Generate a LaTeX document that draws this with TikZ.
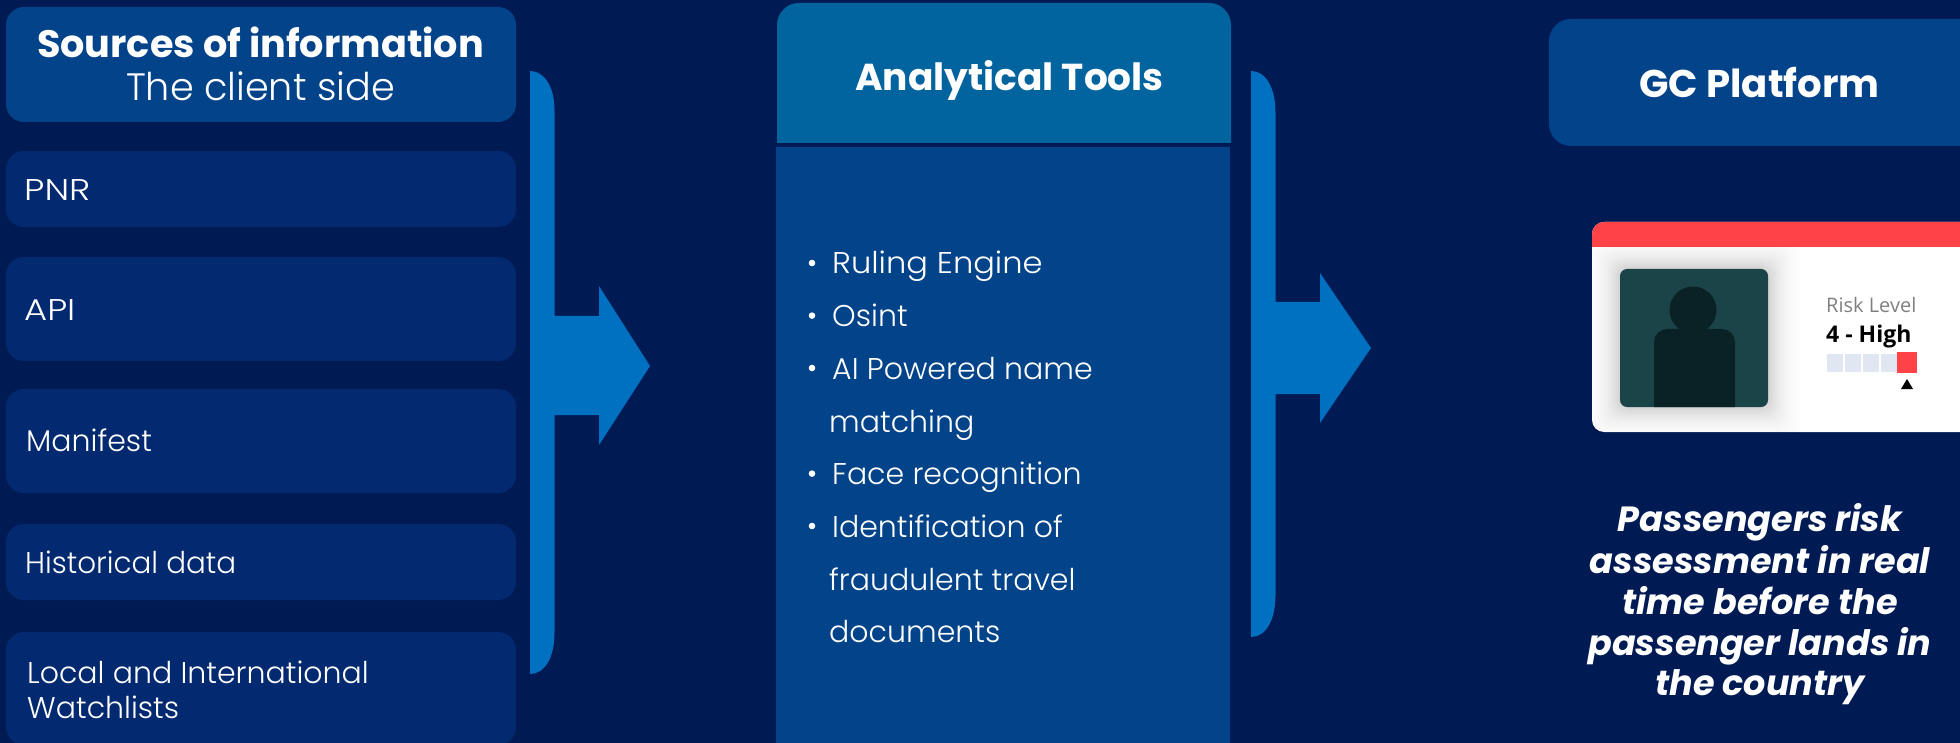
\documentclass[tikz,border=0pt]{standalone}
\usepackage{fontspec}
\setmainfont{Poppins}
\newfontfamily\lightf{Poppins Light}
\newfontfamily\cardfont{Open Sans}
\usetikzlibrary{calc}
\definecolor{bgc}{HTML}{001A54}
\definecolor{hdr}{HTML}{03438A}
\definecolor{itembox}{HTML}{032A70}
\definecolor{hdrb}{HTML}{01649F}
\definecolor{arrowc}{HTML}{0070C0}
\definecolor{redc}{HTML}{FF4347}
\definecolor{photoc}{HTML}{1B4449}
\definecolor{figc}{HTML}{0A2226}
\definecolor{cellc}{HTML}{E1E7F2}
\tikzset{
  x=1pt,y=-1pt,
  panel/.style={anchor=north west,inner sep=0pt,outer sep=0pt,rounded corners=#1},
  panel/.default=18pt,
  itemtxt/.style={anchor=base west,inner sep=0pt,text=white,font=\lightf\fontsize{30}{36}\selectfont},
  toolstxt/.style={anchor=base west,inner sep=0pt,text=white,font=\lightf\fontsize{30}{36}\selectfont},
  titletxt/.style={anchor=base,inner sep=0pt,text=white,font=\fontsize{38.2}{46}\selectfont\bfseries},
  risktxt/.style={anchor=base,inner sep=0pt,text=white,font=\fontsize{35}{42}\selectfont\bfseries\itshape},
  bigarrow/.style={fill=arrowc,draw=none},
  cell/.style={fill=cellc,draw=none},
}
\begin{document}
\begin{tikzpicture}
\useasboundingbox (0,0) rectangle (1960,743);
\fill[bgc] (0,0) rectangle (1960,743);
% left column
\node[panel,fill=hdr,minimum width=510pt,minimum height=115pt] (srcH) at (6,7) {};
\node[panel,fill=itembox,minimum width=510pt,minimum height=76pt] (pnr) at (6,151) {};
\node[panel,fill=itembox,minimum width=510pt,minimum height=104pt] (api) at (6,257) {};
\node[panel,fill=itembox,minimum width=510pt,minimum height=104pt] (man) at (6,389) {};
\node[panel,fill=itembox,minimum width=510pt,minimum height=76pt] (hist) at (6,524) {};
\node[panel,fill=itembox,minimum width=510pt,minimum height=113pt] (local) at (6,632) {};
\node[titletxt] (srcT) at (260.5,57.5) {Sources of information};
\node[titletxt,font=\lightf\fontsize{38.2}{46}\selectfont] (srcS) at (260.5,101) {The client side};
\node[itemtxt] (pnrT) at (24,201) {\scalebox{1.2}[1]{PNR}};
\node[itemtxt] (apiT) at (24,320) {\scalebox{1.18}[1]{API}};
\node[itemtxt] (manT) at (26,451) {Manifest};
\node[itemtxt] (histT) at (25,573) {\scalebox{.98}[1]{Historical data}};
\node[itemtxt] (localT) at (27,683) {Local and International};
\node[itemtxt] (localU) at (27,718) {Watchlists};
% arrow 1
\fill[bigarrow] (530,71) .. controls (545,71) and (554.5,88) .. (554.5,110) -- (554.5,316) -- (599,316) -- (599,286) -- (650,366) -- (599,445) -- (599,415) -- (554.5,415) -- (554.5,633) .. controls (554.5,657) and (545,674) .. (530,674) -- cycle;
% centre column
\fill[hdrb] (777,143) [rounded corners=22pt] -- (777,3) -- (1231,3) [sharp corners] -- (1231,143) -- cycle;
\node[panel=0pt,fill=hdr,minimum width=454pt,minimum height=596pt] (toolsB) at (776,147) {};
\node[titletxt,font=\fontsize{37.5}{46}\selectfont\bfseries] (toolsT) at (1009.5,90.5) {Analytical Tools};
\foreach \n/\yy in {a/274,b/326.6,c/379,d/484.6,e/537}
  \fill[white] (812,\yy-11) circle (3.3) coordinate (dot\n);
\node[toolstxt] (t1) at (832,274) {\scalebox{1.07}[1]{Ruling Engine}};
\node[toolstxt] (t2) at (832,326.6) {Osint};
\node[toolstxt] (t3) at (832,379) {AI Powered name};
\node[toolstxt] (t4) at (829,432) {matching};
\node[toolstxt] (t5) at (832,484.6) {Face recognition};
\node[toolstxt] (t6) at (832,537) {Identification of};
\node[toolstxt] (t7) at (829,590) {fraudulent travel};
\node[toolstxt] (t8) at (829,642) {documents};
% arrow 2
\fill[bigarrow] (1251,71) .. controls (1266,71) and (1275.5,88) .. (1275.5,113) -- (1275.5,302) -- (1320,302) -- (1320,273) -- (1371,348) -- (1320,423) -- (1320,394) -- (1275.5,394) -- (1275.5,595) .. controls (1275.5,620) and (1266,637) .. (1251,637) -- cycle;
% right column
\node[panel=22pt,fill=hdr,minimum width=440pt,minimum height=127pt] (gcH) at (1549,19) {};
\node[titletxt,font=\fontsize{38.6}{46}\selectfont\bfseries] (gcT) at (1759.5,97.5) {GC Platform};
% card
\begin{scope}
\clip (0,0) rectangle (1960,743);
\node[panel=12pt,fill=white,minimum width=400pt,minimum height=210pt] (card) at (1592,222) {};
\fill[redc] (1592,247) [rounded corners=12pt] -- (1592,222) -- (1992,222) [sharp corners] -- (1992,247) -- cycle;
\end{scope}
\begin{scope}
\clip (1592,247) rectangle (1960,432);
\foreach \s in {40,38,...,2}{
  \pgfmathsetmacro\op{0.0015+0.022*(1-\s/40)^2}
  \fill[black,opacity=\op,rounded corners=12pt] (1620-\s,269-\s) rectangle (1768+\s,407+\s);
}
\end{scope}
\node[panel=7pt,fill=photoc,minimum width=148pt,minimum height=138pt] (photo) at (1620,269) {};
\fill[figc] (1693,310) circle (23.5);
\fill[figc] (1654,407) [rounded corners=13pt] -- (1654,329) -- (1735,329) [sharp corners] -- (1735,407) -- cycle;
\node[anchor=base west,inner sep=0pt,text=black!50,font=\cardfont\fontsize{20}{24}\selectfont] (rl) at (1826,313) {Risk Level};
\node[anchor=base west,inner sep=0pt,text=black,font=\cardfont\bfseries\fontsize{23}{27}\selectfont] (rv) at (1826,342) {4 - High};
\fill[cell] (1827,354) rectangle (1843,372);
\fill[cell] (1845,354) rectangle (1861,372);
\fill[cell] (1863,354) rectangle (1879,372);
\fill[cell] (1881,354) rectangle (1897,372);
\fill[redc] (1897,352) rectangle (1917,373);
\fill[black] (1901,389) -- (1913,389) -- (1907,379) -- cycle;
% risk text
\node[risktxt] (r1) at (1760,531.5) {Passengers risk};
\node[risktxt] (r2) at (1760,573.5) {assessment in real};
\node[risktxt] (r3) at (1760,614.5) {time before the};
\node[risktxt] (r4) at (1760,655.5) {passenger lands in};
\node[risktxt] (r5) at (1760,695.5) {the country};
\end{tikzpicture}
\end{document}
